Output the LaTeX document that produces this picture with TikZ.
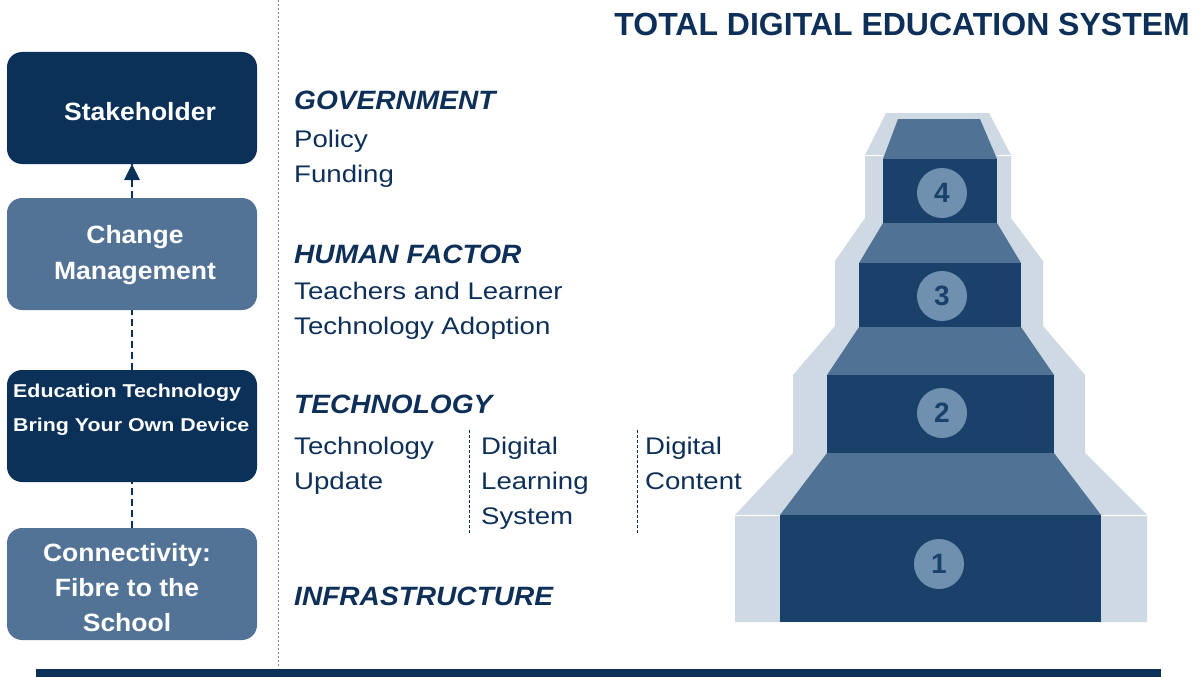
\documentclass[tikz,border=0pt]{standalone}
\usepackage{fontspec}
\setmainfont{Liberation Sans}
\newfontfamily\widefont{Liberation Sans}[FakeStretch=1.15]
\newfontfamily\semiwidefont{Liberation Sans}[FakeStretch=1.06]
\usetikzlibrary{arrows.meta}
\definecolor{navy}{HTML}{0B3159}
\definecolor{midblue}{HTML}{527396}
\definecolor{stepfront}{HTML}{1A4169}
\definecolor{steptread}{HTML}{507295}
\definecolor{stepedge}{HTML}{CED9E3}
\definecolor{badge}{HTML}{7090B0}
\definecolor{ink}{HTML}{0E2F57}
\definecolor{rule}{HTML}{7A8CA0}
\tikzset{
  box/.style={rounded corners=15pt, minimum width=250pt, minimum height=112pt, inner sep=0pt},
  boxtext/.style={anchor=base, text=white, align=center, inner sep=0pt,
    font=\semiwidefont\fontsize{25}{36}\selectfont\bfseries},
  head/.style={anchor=base west, text=ink, inner sep=0pt,
    font=\semiwidefont\fontsize{26.5}{35}\selectfont\bfseries\itshape},
  body/.style={anchor=base west, text=ink, align=left, inner sep=0pt,
    font=\widefont\fontsize{24}{35}\selectfont},
  link/.style={navy, line width=2.5pt, dash pattern=on 7pt off 4pt},
  badgenum/.style={circle, fill=badge, minimum size=50pt, inner sep=0pt,
    text=stepfront, font=\fontsize{28}{30}\selectfont\bfseries},
  divider/.style={ink, line width=1pt, dash pattern=on 3pt off 2pt}
}
\begin{document}
\begin{tikzpicture}[x=1pt,y=-1pt]
\useasboundingbox (0,0) rectangle (1199,677);

% title
\node[anchor=base east, text=ink, font=\fontsize{32}{36}\selectfont\bfseries, inner sep=0pt]
  (title) at (1190,36) {TOTAL DIGITAL EDUCATION SYSTEM};

% separator and base bar
\draw[rule, line width=1pt, dash pattern=on 2pt off 2pt] (278,0) -- (278,668);
\fill[navy] (36,669) rectangle (1161,677);

% left column of stages
\node[box, fill=navy] (sh) at (132,108) {};
\node[boxtext] (shtxt) at (140,120) {Stakeholder};
\node[box, fill=midblue] (cm) at (132,254) {};
\node[boxtext] (cmtxt) at (135,279) {Change\\Management};
\node[box, fill=navy] (edu) at (132,426) {};
\node[anchor=base west, text=white, align=left, inner sep=0pt,
  font=\widefont\fontsize{18.6}{34.5}\selectfont\bfseries]
  (edutxt) at (13,431.5) {Education Technology\\Bring Your Own Device};
\node[box, fill=midblue] (con) at (132,584) {};
\node[boxtext, font=\semiwidefont\fontsize{25}{35}\selectfont\bfseries]
  (contxt) at (127,631) {Connectivity:\\Fibre to the\\School};

\draw[link] (cm.north) -- ([yshift=12pt]sh.south);
\fill[navy] (sh.south) -- ++(-8,16) -- ++(16,0) -- cycle;
\draw[link] (edu.north) -- (cm.south);
\draw[link] (con.north) -- (edu.south);

% descriptions
\node[head] (gov) at (294,109) {GOVERNMENT};
\node[body] (gov1) at (294,147) {Policy};
\node[body] (gov2) at (294,182) {Funding};
\node[head] (hum) at (294,263) {HUMAN FACTOR};
\node[body] (hum1) at (294,299) {Teachers and Learner};
\node[body] (hum2) at (294,334) {Technology Adoption};
\node[head] (tec) at (294,413) {TECHNOLOGY};
\node[body] (tec1) at (294,489) {Technology\\Update};
\node[body] (tec2) at (481,524) {Digital\\Learning\\System};
\node[body] (tec3) at (645,489) {Digital\\Content};
\coordinate (d1a) at (469,430); \coordinate (d1b) at (469,534);
\coordinate (d2a) at (637,430); \coordinate (d2b) at (637,534);
\draw[divider] (d1a) -- (d1b);
\draw[divider] (d2a) -- (d2b);
\node[head] (inf) at (294,605) {INFRASTRUCTURE};

% staircase: outer wall
\fill[stepedge] (886,113) -- (989,113) -- (1011,155) -- (1011,218) -- (1043,261)
  -- (1043,326) -- (1085,375) -- (1085,453) -- (1147,515) -- (1147,622)
  -- (735,622) -- (735,515) -- (793,453) -- (793,375) -- (835,326) -- (835,261)
  -- (865,218) -- (865,155) -- cycle;
\draw[white, line width=1pt] (865,155) -- (883,155) (997,155) -- (1011,155)
  (735,515) -- (780,515) (1101,515) -- (1147,515);

% treads
\fill[steptread] (898,119) -- (980,119) -- (997,159) -- (883,159) -- cycle;
\fill[steptread] (883,223) -- (997,223) -- (1021,263) -- (859,263) -- cycle;
\fill[steptread] (859,327) -- (1021,327) -- (1054,375) -- (827,375) -- cycle;
\fill[steptread] (827,453) -- (1054,453) -- (1101,515) -- (780,515) -- cycle;
% risers
\fill[stepfront] (883,159) rectangle (997,223);
\fill[stepfront] (859,263) rectangle (1021,327);
\fill[stepfront] (827,375) rectangle (1054,453);
\fill[stepfront] (780,515) rectangle (1101,622);

% step numbers
\node[badgenum] (s4) at (942,193) {4};
\node[badgenum] (s3) at (942,296) {3};
\node[badgenum] (s2) at (942,413) {2};
\node[badgenum] (s1) at (939,564) {1};
\end{tikzpicture}
\end{document}
